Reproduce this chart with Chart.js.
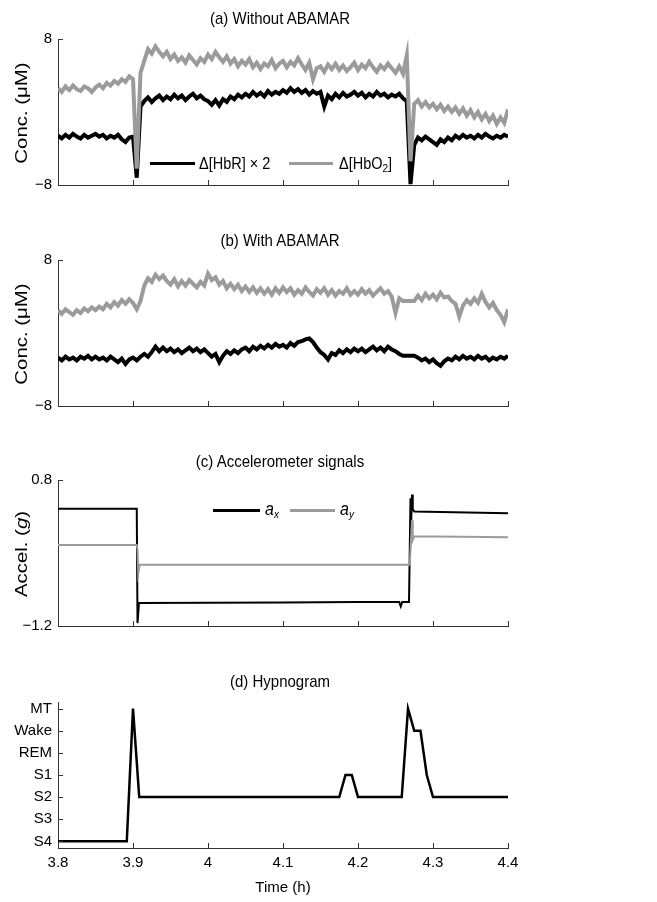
<!DOCTYPE html>
<html>
<head>
<meta charset="utf-8">
<script src="https://cdn.jsdelivr.net/npm/chart.js@4.4.0/dist/chart.umd.min.js"></script>
<style>
  body { margin: 0; background: #fff; }
  #wrap { position: relative; width: 657px; height: 902px; font-family: "Liberation Sans", Arial, sans-serif; color: #000; }
  canvas { position: absolute; left: 0; }
  .ttl { position: absolute; left: 280px; font-size: 15px; white-space: nowrap; transform: translate(-50%, -50%) scaleY(1.12); }
  .ylab { position: absolute; left: 22px; font-size: 17px; white-space: nowrap; transform: translate(-50%, -50%) rotate(-90deg) scaleX(1.2); }
  .lg { position: absolute; white-space: nowrap; font-size: 14.5px; transform-origin: left center; transform: translateY(-50%) scaleY(1.15); }
  .sw { position: absolute; height: 3px; }
  sub { font-size: 10px; vertical-align: -3px; line-height: 0; }
</style>
</head>
<body>
<div id="wrap">
  <canvas id="chartA" width="657" height="200" style="top:0px"></canvas>
  <canvas id="chartB" width="657" height="200" style="top:221px"></canvas>
  <canvas id="chartC" width="657" height="200" style="top:441px"></canvas>
  <canvas id="chartD" width="657" height="252" style="top:650px"></canvas>

  <div class="ttl" style="top:18px">(a) Without ABAMAR</div>
  <div class="ttl" style="top:240px">(b) With ABAMAR</div>
  <div class="ttl" style="top:461px">(c) Accelerometer signals</div>
  <div class="ttl" style="top:681px">(d) Hypnogram</div>

  <div class="ylab" style="top:113px">Conc. (μM)</div>
  <div class="ylab" style="top:334px">Conc. (μM)</div>
  <div class="ylab" style="top:554px">Accel. (<i>g</i>)</div>

  <!-- leyendas -->
  <div class="sw" style="left:150px;top:162px;width:45px;background:#000"></div>
  <div class="lg" style="left:199px;top:163px">Δ[HbR] × 2</div>
  <div class="sw" style="left:289px;top:162px;width:44px;background:#9b9b9b"></div>
  <div class="lg" style="left:339px;top:163px">Δ[HbO<sub>2</sub>]</div>

  <div class="sw" style="left:213px;top:509px;width:47px;background:#000"></div>
  <div class="lg" style="left:265px;top:509px;font-size:16px"><i>a</i><sub><i>x</i></sub></div>
  <div class="sw" style="left:290px;top:509px;width:45px;background:#9b9b9b"></div>
  <div class="lg" style="left:340px;top:509px;font-size:16px"><i>a</i><sub><i>y</i></sub></div>
</div>

<script>
// Eje de tiempo (h)
const timeTicks = [3.8, 3.9, 4.0, 4.1, 4.2, 4.3, 4.4];

// Muestras NIRS (cada 0.005 h)
const tNirs = [
  3.800, 3.805, 3.810, 3.815, 3.820, 3.825, 3.830, 3.835, 3.840, 3.845,
  3.850, 3.855, 3.860, 3.865, 3.870, 3.875, 3.880, 3.885, 3.890, 3.895,
  3.900, 3.905, 3.910, 3.915, 3.920, 3.925, 3.930, 3.935, 3.940, 3.945,
  3.950, 3.955, 3.960, 3.965, 3.970, 3.975, 3.980, 3.985, 3.990, 3.995,
  4.000, 4.005, 4.010, 4.015, 4.020, 4.025, 4.030, 4.035, 4.040, 4.045,
  4.050, 4.055, 4.060, 4.065, 4.070, 4.075, 4.080, 4.085, 4.090, 4.095,
  4.100, 4.105, 4.110, 4.115, 4.120, 4.125, 4.130, 4.135, 4.140, 4.145,
  4.150, 4.155, 4.160, 4.165, 4.170, 4.175, 4.180, 4.185, 4.190, 4.195,
  4.200, 4.205, 4.210, 4.215, 4.220, 4.225, 4.230, 4.235, 4.240, 4.245,
  4.250, 4.255, 4.260, 4.265, 4.270, 4.275, 4.280, 4.285, 4.290, 4.295,
  4.300, 4.305, 4.310, 4.315, 4.320, 4.325, 4.330, 4.335, 4.340, 4.345,
  4.350, 4.355, 4.360, 4.365, 4.370, 4.375, 4.380, 4.385, 4.390, 4.395,
  4.400
];

// (a) sin ABAMAR
const hbrA = [
  -2.6, -2.9, -2.5, -2.8, -2.4, -2.7, -2.9, -2.5, -2.8, -2.6,
  -2.4, -2.7, -2.5, -2.9, -2.6, -2.8, -2.5, -3.0, -3.3, -2.8,
  -2.7, -7.2, 0.6, 1.2, 1.6, 1.1, 1.5, 1.8, 1.3, 1.7,
  1.4, 1.9, 1.5, 1.8, 1.3, 1.7, 2.0, 1.5, 1.8, 1.4,
  1.2, 0.8, 1.3, 0.7, 1.4, 1.1, 1.7, 1.4, 1.9, 1.6,
  2.0, 1.7, 2.2, 1.8, 2.1, 1.7, 2.3, 1.9, 2.2, 2.0,
  2.4, 2.1, 2.6, 2.2, 2.5, 2.1, 2.4, 1.9, 2.3, 2.0,
  2.2, 0.6, 1.8, 1.4, 2.0, 1.6, 2.1, 1.7, 1.9, 2.2,
  1.8, 2.1, 1.6, 2.0, 1.7, 2.2, 1.8, 2.0, 1.6, 1.9,
  1.7, 2.0, 1.5, 1.2, -7.9, -3.6, -2.8, -3.1, -2.7, -3.0,
  -3.3, -3.6, -3.0, -3.3, -2.8, -3.1, -2.6, -2.9, -2.5, -2.8,
  -2.6, -2.9, -2.5, -2.8, -2.4, -2.7, -2.9, -2.6, -2.8, -2.5,
  -2.7
];
const hbo2A = [
  2.6, 2.2, 2.8, 2.4, 2.9, 2.5, 2.3, 2.8, 2.6, 2.2,
  2.7, 3.0, 2.6, 3.2, 2.9, 3.4, 3.1, 3.6, 3.3, 3.9,
  3.6, -6.2, 4.3, 5.6, 6.9, 6.4, 7.2, 6.6, 6.1, 6.6,
  5.8, 6.3, 5.6, 6.0, 5.4, 6.2, 5.7, 5.2, 5.9, 5.5,
  6.3, 5.8, 6.6, 6.0, 5.5, 6.1, 5.3, 5.8, 5.0, 5.6,
  5.2, 5.8, 4.9, 5.4, 4.7, 5.3, 5.0, 5.7, 4.8, 5.3,
  5.6, 4.9, 5.5, 5.1, 5.9, 5.2, 4.6, 5.4, 3.6, 4.8,
  5.0, 4.4, 5.2, 4.7, 5.3, 4.6, 5.1, 4.5, 4.9, 5.4,
  4.6, 5.2, 4.8, 5.5, 4.9, 4.4, 5.1, 4.7, 5.3, 4.8,
  4.3, 5.0, 4.2, 6.2, -5.4, 0.9, 1.3, 0.6, 1.1, 0.5,
  0.9, 0.3, 0.8, 0.1, 0.6, 0.0, 0.5, -0.2, 0.4, -0.4,
  0.2, -0.6, 0.0, -0.8, -0.2, -1.0, -0.4, -1.3, -0.6, -1.2,
  0.3
];

// (b) con ABAMAR
const hbrB = [
  -2.7, -3.0, -2.6, -2.9, -2.7, -3.0, -2.6, -2.8, -2.5, -2.9,
  -2.6, -2.9, -2.7, -3.0, -2.6, -2.9, -3.2, -2.8, -3.4, -2.9,
  -2.7, -3.0, -2.6, -2.3, -2.6, -2.1, -1.5, -2.0, -1.6, -2.0,
  -1.7, -2.1, -1.8, -2.2, -1.9, -1.6, -2.0, -1.7, -2.1, -1.8,
  -2.2, -2.6, -2.3, -3.2, -2.5, -2.0, -2.3, -1.9, -2.2, -1.8,
  -1.6, -2.0, -1.5, -1.8, -1.4, -1.7, -1.3, -1.6, -1.2, -1.5,
  -1.3, -1.6, -1.1, -1.4, -1.0, -0.9, -0.7, -0.6, -1.0, -1.6,
  -2.1, -2.4, -2.9, -2.2, -2.4, -1.9, -2.2, -1.8, -2.1, -1.7,
  -2.0, -1.7, -2.1, -1.8, -1.5, -1.9, -1.6, -2.0, -1.5, -1.8,
  -2.0, -2.3, -2.5, -2.5, -2.5, -2.5, -2.7, -3.0, -2.8, -3.2,
  -2.9, -3.3, -3.6, -3.1, -2.8, -3.0, -2.6, -2.9, -2.5, -2.8,
  -2.6, -2.9, -2.5, -2.8, -2.6, -3.0, -2.7, -2.9, -2.6, -2.8,
  -2.5
];
const hbo2B = [
  2.5, 2.1, 2.6, 2.3, 2.0, 2.5, 2.2, 2.7, 2.4, 2.8,
  2.5, 2.9, 2.6, 3.2, 2.8, 3.4, 3.0, 3.6, 3.2, 3.7,
  3.3, 2.6, 3.5, 5.2, 6.0, 5.6, 6.4, 5.9, 6.3, 5.7,
  5.3, 5.9, 5.1, 5.7, 5.2, 5.8, 5.4, 5.0, 5.6, 5.2,
  6.5, 5.8, 6.1, 5.3, 5.7, 4.9, 5.4, 4.8, 5.3, 4.6,
  5.1, 4.5, 5.0, 4.4, 4.9, 4.3, 4.8, 4.2, 4.9, 4.4,
  5.0, 4.5, 4.9, 4.2, 4.7, 4.3, 5.0, 4.5, 4.1, 4.8,
  4.4, 4.9, 4.2, 4.7, 4.1, 4.6, 4.3, 4.9, 4.2, 4.6,
  4.2, 4.8, 4.3, 4.7, 4.1, 4.5, 4.9, 4.3, 4.6, 4.0,
  2.2, 3.8, 3.5, 3.5, 3.5, 3.5, 4.1, 3.6, 4.3, 3.8,
  4.2, 3.7, 4.4, 3.9, 4.0, 3.5, 3.2, 1.8, 3.0, 3.6,
  3.2, 3.8, 3.3, 4.3, 3.4, 2.8, 3.3, 2.5, 2.0, 1.2,
  2.6
];

// (c) acelerómetro
const axT = [3.8, 3.905, 3.906, 3.908, 4.0, 4.1, 4.2, 4.255, 4.257, 4.259, 4.268, 4.270, 4.271, 4.272, 4.273, 4.275, 4.4];
const axV = [0.405, 0.405, -1.16, -0.885, -0.882, -0.878, -0.872, -0.87, -0.93, -0.87, -0.87, 0.55, 0.25, 0.6, 0.40, 0.37, 0.345];
const ayT = [3.8, 3.905, 3.906, 3.907, 3.909, 4.269, 4.271, 4.272, 4.273, 4.275, 4.4];
const ayV = [-0.09, -0.09, -0.15, -0.48, -0.36, -0.36, 0.05, 0.25, -0.02, 0.03, 0.015];

// (d) hipnograma
const stageNames = ["S4", "S3", "S2", "S1", "REM", "Wake", "MT"];
const hypT = [3.8, 3.8917, 3.9, 3.9083, 4.175, 4.1833, 4.1917, 4.2, 4.2583, 4.2667, 4.275, 4.2833, 4.2917, 4.3, 4.4];
const hypStage = [0, 0, 6, 2, 2, 3, 3, 2, 2, 6, 5, 5, 3, 2, 2];

const GRAY = "#9b9b9b";

Chart.defaults.font.family = '"Liberation Sans", Arial, sans-serif';
Chart.defaults.font.size = 15;
Chart.defaults.color = "#000";

function pairs(ts, vs) {
  return ts.map((t, i) => ({ x: t, y: vs[i] }));
}

function minusLabel(v) {
  return v < 0 ? "\u2212" + Math.abs(v) : String(v);
}

// Marcas de eje hacia adentro, estilo MATLAB
const inTicks = {
  id: "inTicks",
  afterDatasetsDraw(chart) {
    const { ctx, chartArea: a, scales } = chart;
    ctx.save();
    ctx.strokeStyle = "#333";
    ctx.lineWidth = 1;
    ctx.beginPath();
    scales.x.ticks.forEach((t) => {
      const px = Math.round(scales.x.getPixelForValue(t.value)) + 0.5;
      ctx.moveTo(px, a.bottom);
      ctx.lineTo(px, a.bottom - 5);
    });
    scales.y.ticks.forEach((t) => {
      const py = Math.round(scales.y.getPixelForValue(t.value)) + 0.5;
      ctx.moveTo(a.left, py);
      ctx.lineTo(a.left + 5, py);
    });
    ctx.stroke();
    ctx.restore();
  },
};

function options(cfg) {
  return {
    responsive: false,
    animation: false,
    layout: { padding: { top: cfg.padTop, right: 149, left: 0, bottom: 0 } },
    plugins: { legend: { display: false }, tooltip: { enabled: false } },
    elements: { point: { radius: 0 }, line: { tension: 0, borderJoinStyle: "miter" } },
    scales: {
      x: {
        type: "linear",
        min: 3.8,
        max: 4.4,
        afterBuildTicks: (s) => { s.ticks = timeTicks.map((v) => ({ value: v })); },
        afterFit: (s) => { s.height = cfg.xHeight; },
        grid: { drawOnChartArea: false, drawTicks: false },
        border: { color: "#333", width: 1 },
        ticks: {
          display: cfg.showX,
          padding: 6,
          callback: (v) => String(Math.round(v * 10) / 10),
        },
        title: {
          display: cfg.showX,
          text: "Time (h)",
          padding: { top: 0, bottom: 5 },
        },
      },
      y: {
        type: "linear",
        min: cfg.yMin,
        max: cfg.yMax,
        afterBuildTicks: (s) => { s.ticks = cfg.yTicks.map((v) => ({ value: v })); },
        afterFit: (s) => { s.width = 58; },
        grid: { drawOnChartArea: false, drawTicks: false },
        border: { color: "#333", width: 1 },
        ticks: { padding: 6, callback: cfg.yLabel },
      },
    },
  };
}

// Gráfica (a)
new Chart(document.getElementById("chartA"), {
  type: "line",
  data: {
    datasets: [
      { label: "Δ[HbO2]", data: pairs(tNirs, hbo2A), borderColor: GRAY, borderWidth: 4 },
      { label: "Δ[HbR] × 2", data: pairs(tNirs, hbrA), borderColor: "#000", borderWidth: 4 },
    ],
  },
  options: options({ padTop: 39, xHeight: 13, showX: false, yMin: -8, yMax: 8, yTicks: [-8, 8], yLabel: minusLabel }),
  plugins: [inTicks],
});

// Gráfica (b)
new Chart(document.getElementById("chartB"), {
  type: "line",
  data: {
    datasets: [
      { label: "Δ[HbO2]", data: pairs(tNirs, hbo2B), borderColor: GRAY, borderWidth: 4 },
      { label: "Δ[HbR] × 2", data: pairs(tNirs, hbrB), borderColor: "#000", borderWidth: 4 },
    ],
  },
  options: options({ padTop: 39, xHeight: 13, showX: false, yMin: -8, yMax: 8, yTicks: [-8, 8], yLabel: minusLabel }),
  plugins: [inTicks],
});

// Gráfica (c)
new Chart(document.getElementById("chartC"), {
  type: "line",
  data: {
    datasets: [
      { label: "ay", data: pairs(ayT, ayV), borderColor: GRAY, borderWidth: 2 },
      { label: "ax", data: pairs(axT, axV), borderColor: "#000", borderWidth: 2 },
    ],
  },
  options: options({ padTop: 39, xHeight: 13, showX: false, yMin: -1.2, yMax: 0.8, yTicks: [-1.2, 0.8], yLabel: minusLabel }),
  plugins: [inTicks],
});

// Gráfica (d)
new Chart(document.getElementById("chartD"), {
  type: "line",
  data: {
    datasets: [
      { label: "Hypnogram", data: pairs(hypT, hypStage), borderColor: "#000", borderWidth: 2.5 },
    ],
  },
  options: options({
    padTop: 52, xHeight: 54, showX: true,
    yMin: -0.3, yMax: 6.3, yTicks: [0, 1, 2, 3, 4, 5, 6],
    yLabel: (v) => stageNames[v],
  }),
  plugins: [inTicks],
});
</script>
</body>
</html>
